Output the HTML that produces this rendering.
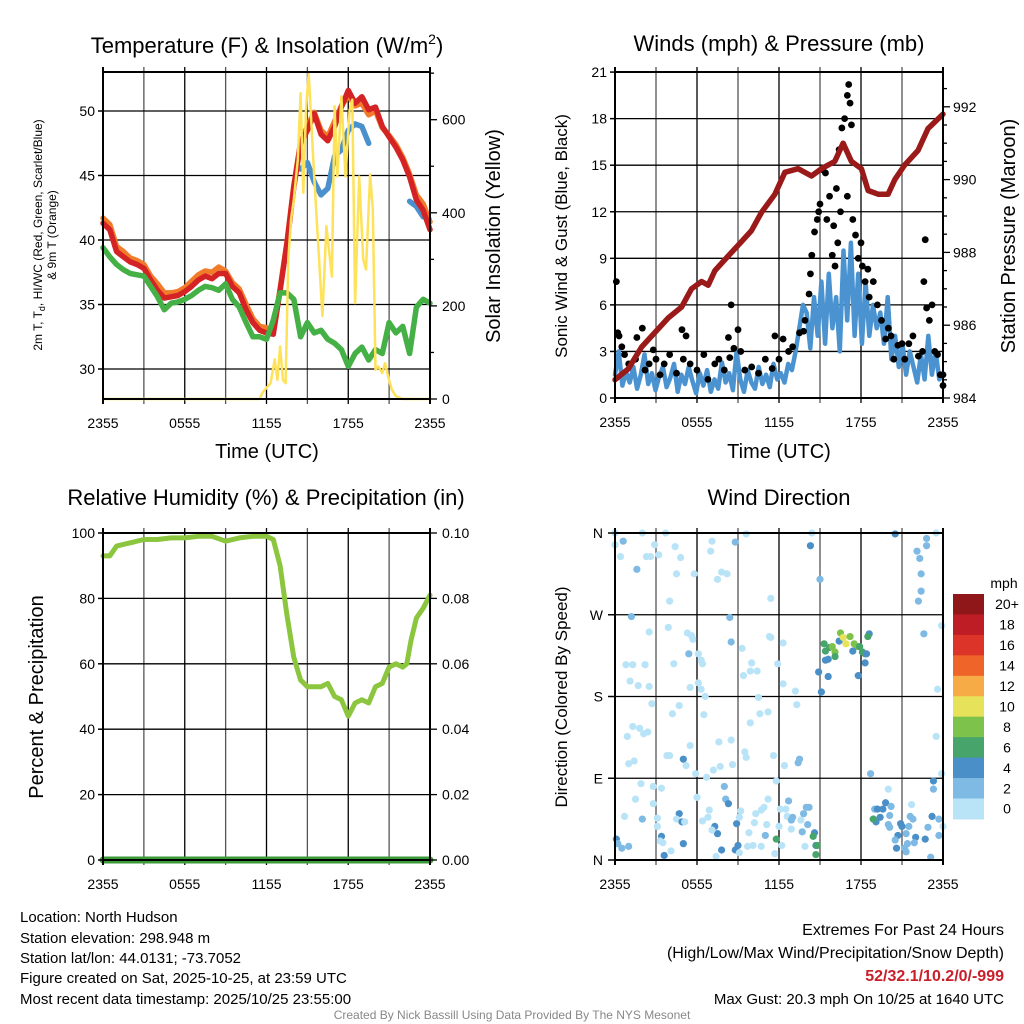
<!DOCTYPE html>
<html><head><meta charset="utf-8">
<style>
html,body{margin:0;padding:0;background:#fff;}
svg{display:block;font-family:"Liberation Sans",sans-serif;}
</style></head>
<body>
<svg id="chart" width="1024" height="1024" viewBox="0 0 1024 1024" xmlns="http://www.w3.org/2000/svg">
<rect width="1024" height="1024" fill="#fff"/>
<g id="grid"></g>
<g id="marks"></g>
<g id="axes"></g>
<text x="267" y="53" font-size="22" text-anchor="middle">Temperature (F) &amp; Insolation (W/m<tspan font-size="14" dy="-9">2</tspan><tspan dy="9">)</tspan></text>
<text x="779" y="51" font-size="22" text-anchor="middle">Winds (mph) &amp; Pressure (mb)</text>
<text x="266" y="505" font-size="22" text-anchor="middle">Relative Humidity (%) &amp; Precipitation (in)</text>
<text x="779" y="505" font-size="22" text-anchor="middle">Wind Direction</text>
<text transform="translate(42,235) rotate(-90)" font-size="12" text-anchor="middle">2m T, T<tspan font-size="9" dy="3">d</tspan><tspan dy="-3">, HI/WC (Red, Green, Scarlet/Blue)</tspan></text>
<text transform="translate(56,235) rotate(-90)" font-size="12" text-anchor="middle">&amp; 9m T (Orange)</text>
<text transform="translate(500,236) rotate(-90)" font-size="20" text-anchor="middle">Solar Insolation (Yellow)</text>
<text transform="translate(567,236) rotate(-90)" font-size="17" text-anchor="middle">Sonic Wind &amp; Gust (Blue, Black)</text>
<text transform="translate(1015,236) rotate(-90)" font-size="20" text-anchor="middle">Station Pressure (Maroon)</text>
<text transform="translate(43,697) rotate(-90)" font-size="20" text-anchor="middle">Percent &amp; Precipitation</text>
<text transform="translate(567,697) rotate(-90)" font-size="17" text-anchor="middle">Direction (Colored By Speed)</text>
<text x="267" y="458" font-size="20" text-anchor="middle">Time (UTC)</text>
<text x="779" y="458" font-size="20" text-anchor="middle">Time (UTC)</text>
<g font-size="15">
<text x="20" y="922">Location: North Hudson</text>
<text x="20" y="943">Station elevation: 298.948 m</text>
<text x="20" y="963">Station lat/lon: 44.0131; -73.7052</text>
<text x="20" y="983">Figure created on Sat, 2025-10-25, at 23:59 UTC</text>
<text x="20" y="1004">Most recent data timestamp: 2025/10/25 23:55:00</text>
</g>
<g text-anchor="end">
<text x="1004" y="935" font-size="16">Extremes For Past 24 Hours</text>
<text x="1004" y="958" font-size="16">(High/Low/Max Wind/Precipitation/Snow Depth)</text>
<text x="1004" y="981" font-size="16" font-weight="bold" fill="#c8202a">52/32.1/10.2/0/-999</text>
<text x="1004" y="1004" font-size="15">Max Gust: 20.3 mph On 10/25 at 1640 UTC</text>
</g>
<text x="512" y="1019" font-size="12" fill="#888" text-anchor="middle">Created By Nick Bassill Using Data Provided By The NYS Mesonet</text>
</svg>
<script>
const timeTicks = ["2355","0555","1155","1755","2355"];
const tempRed = [41.3,40.8,39.1,38.7,38.3,38.1,37.8,36.9,36.1,35.5,35.6,35.7,36.0,36.4,36.9,37.2,37.0,37.4,37.4,36.4,35.9,34.6,33.6,33.0,32.8,32.7,36.1,39.7,44.1,47.5,48.5,49.8,48.2,47.7,48.8,50.3,51.6,50.6,51.1,50.1,50.3,48.8,48.0,47.2,46.2,44.9,43.1,42.3,40.8];
const tempOrange = [41.7,41.2,39.5,39.1,38.6,38.4,38.1,37.2,36.6,35.9,35.9,36.0,36.3,36.8,37.3,37.6,37.5,37.9,37.6,36.7,36.2,35.0,33.9,33.3,33.2,32.9,36.2,39.8,44.2,47.6,48.8,49.9,48.5,48.0,49.2,50.4,51.2,50.4,50.6,49.7,50.0,48.7,48.1,47.4,46.4,45.1,43.5,42.8,41.4];
const tempBlue = [null,null,null,null,null,null,null,null,null,null,null,null,null,null,null,null,null,null,null,null,null,null,null,null,null,null,null,null,null,45.5,46.0,44.5,43.5,44.0,46.5,47.0,48.5,49.0,48.8,47.5,null,null,null,null,null,43.0,42.6,41.8,null];
const dewGreen = [39.4,38.7,38.1,37.7,37.4,37.3,37.2,36.4,35.6,34.6,35.1,35.2,35.4,35.7,36.1,36.4,36.3,36.1,36.6,35.4,34.8,33.6,32.5,32.5,32.3,33.8,35.9,35.9,35.4,32.5,33.6,32.8,33.0,32.3,32.0,31.5,30.2,31.2,31.7,30.7,31.5,31.2,33.6,32.8,33.3,31.2,34.8,35.4,35.1];
const tempTicks = [30,35,40,45,50];
const solarTicks = [0,200,400,600];
const solarH = [0,11.5,11.7,12,12.3,12.6,12.8,13,13.2,13.4,13.6,13.8,14,14.3,14.5,14.7,14.9,15.1,15.3,15.5,15.8,16.1,16.4,16.8,17,17.2,17.5,17.8,18.1,18.3,18.5,18.8,19.1,19.3,19.6,19.8,20,20.2,20.5,20.7,21,21.2,21.5,22,24];
const solarW = [0,0,13,24,34,85,41,113,41,34,300,385,428,514,657,443,621,700,586,478,328,178,371,263,629,478,650,478,621,643,206,478,300,278,482,407,63,70,56,77,41,20,6,0,0];

const windSpeed = [1.5,3.0,0.8,1.7,1.0,2.0,0.6,1.5,2.8,0.9,1.6,0.5,1.4,2.0,0.7,1.3,2.2,0.4,1.5,0.9,2.0,1.1,0.3,1.6,0.8,1.8,0.4,1.2,0.6,2.3,1.0,1.6,0.5,3.0,1.2,0.4,1.8,1.0,0.6,2.0,0.9,1.5,0.7,2.2,1.2,1.6,1.0,2.2,1.8,3.0,4.5,6.0,5.5,3.2,6.5,4.0,7.5,3.5,8.0,4.5,6.5,3.0,9.5,5.0,10.0,4.0,8.0,3.5,7.5,4.0,6.0,4.5,5.5,3.5,6.5,2.5,4.0,2.0,3.5,1.5,3.0,2.0,1.0,2.8,1.2,4.0,1.5,3.0,1.2,1.5];
const gustH = [0.1,0.2,0.3,0.5,0.7,1.0,1.5,1.6,2.0,2.2,2.5,2.8,3.0,3.3,3.6,4.0,4.5,4.9,5.0,5.2,5.5,6.0,6.5,6.8,7.3,7.6,8.0,8.4,8.5,8.3,8.7,9.0,9.2,9.5,10.0,10.5,11.0,11.5,11.7,12.0,12.3,12.7,13.0,13.5,13.8,13.9,14.2,14.3,14.4,14.6,14.8,14.9,15.0,15.2,15.4,15.5,15.7,15.9,16.0,16.2,16.4,16.6,16.8,17.0,17.1,17.2,17.3,17.0,17.4,16.5,16.3,16.1,17.6,17.8,18.0,18.1,18.3,18.5,18.6,18.9,19.2,19.5,19.8,20.0,20.2,20.4,20.7,21.0,21.2,21.5,21.8,22.2,22.5,22.6,22.7,22.8,23.0,23.2,23.4,23.6,23.8,24.0,24.0];
const gustV = [7.5,4.2,4.0,3.3,2.8,2.2,2.5,3.9,4.5,1.8,2.2,3.1,2.5,1.5,2.2,2.8,1.6,4.4,2.5,4.0,2.2,1.8,2.8,1.2,2.2,2.5,1.8,2.6,6.0,3.9,3.2,4.4,3.0,1.8,2.0,1.6,2.5,1.9,4.0,2.5,3.8,3.0,3.3,4.2,4.3,5.0,6.7,8.0,9.2,10.7,11.5,12.0,12.5,14.7,14.5,11.5,13.0,9.2,11.1,13.5,16.0,17.4,18.0,19.5,20.2,19.0,17.6,13.0,11.5,12.0,10.0,8.5,10.5,9.0,10.0,8.5,7.5,8.3,6.5,7.5,6.0,5.0,3.8,4.5,4.0,2.5,3.4,3.5,2.5,3.5,4.0,2.7,3.0,7.5,10.2,5.8,5.0,6.0,3.0,2.8,1.5,0.8,1.5];
const presH = [0,0.97,1.95,2.92,3.9,4.87,5.6,6.34,6.82,7.31,8.28,9.26,9.99,10.72,11.7,12.43,13.4,14.38,15.11,16.08,16.69,17.3,18.03,18.52,19.25,19.98,20.47,21.2,22.17,22.9,24];
const presV = [984.5,984.8,985.4,985.8,986.2,986.5,987.0,987.2,987.1,987.5,987.9,988.3,988.6,989.1,989.6,990.2,990.3,990.1,990.3,990.5,991.0,990.5,990.3,989.7,989.6,989.6,990.0,990.4,990.8,991.4,991.8];
const windTicks = [0,3,6,9,12,15,18,21];
const presTicks = [984,986,988,990,992];

const rhH = [0,0.5,1,2,3,4,5,6,7,8,9,10,11,12,12.5,13,13.5,14,14.5,15,16,16.5,17,17.5,18,18.5,19,19.5,20,20.5,21,21.5,22,22.3,22.6,23,23.5,24];
const rhV = [93,93,96,97,98,98,98.5,98.5,99,99,97.5,98.5,99,99,98,90,75,62,55,53,53,54,50,49,44,48,49,48,53,54,59,60,59,60,67,74,77,81];
const precipH = [0,24];
const precipV = [0,0];
const rhTicks = [0,20,40,60,80,100];
const precipTicks = ["0.00","0.02","0.04","0.06","0.08","0.10"];

const dirH = [0.0,2.0,3.7,9.6,14.4,20.5,23.5,0,0.6,2.9,4.4,7.1,7.0,8.8,14.3,22.8,22.8,0.4,2.3,2.6,3.2,4.8,22.1,22.3,1.6,4.5,5.8,7.8,8.2,7.5,15.0,22.4,22.4,4.0,11.4,22.2,1.2,8.4,2.5,3.9,5.3,5.6,5.7,8.5,11.3,11.4,12.3,22.6,23.9,5.4,6.1,6.3,6.4,9.3,10.0,0.8,1.3,2.2,4.3,9.9,10.4,11.9,9.4,1.1,1.7,2.5,5.5,6.1,6.3,12.3,13.2,23.6,6.6,10.5,2.7,4.7,13.3,4.2,6.5,10.6,11.2,9.9,1.3,1.8,2.1,2.4,0.9,5.5,7.6,8.5,23.5,9.5,9.6,11.6,3.8,4.0,5.0,13.5,13.4,1.0,1.4,5.2,7.7,8.6,12.4,5.9,6.7,7.2,18.7,23.9,23.3,23.3,11.8,1.9,2.8,3.4,8.0,8.1,8.3,6.0,1.5,2.8,11.2,12.7,20.0,21.7,0.7,2.0,3.1,4.7,4.5,4.9,5.1,6.4,6.9,6.8,7.3,7.5,7.1,8.9,9.2,9.1,10.3,10.7,10.9,10.2,11.1,12.0,12.1,12.5,12.6,12.9,13.0,12.9,13.6,13.8,14.0,14.2,14.1,13.7,14.6,14.5,14.7,14.8,14.7,11.8,11.0,9.8,9.7,10.1,10.7,12.2,9.0,8.8,9.1,7.8,7.4,5.0,4.1,3.6,3.4,3.3,3.5,3.1,0.1,0.2,0.5,1.0,11.7,13.9,19.0,19.2,19.6,19.8,20.2,20.1,18.9,19.1,19.4,18.9,20.0,20.1,20.9,21.0,20.7,20.5,20.6,21.2,21.4,21.3,21.5,21.3,21.6,21.8,22.0,21.9,22.7,22.9,23.2,23.7,24.0,23.7,23.1,15.3,15.4,15.7,15.9,16.1,16.1,16.4,16.5,16.7,16.9,17.2,17.5,17.7,17.9,18.1,18.3,17.4,18.4,15.4,15.6,18.3,18.6,18.5,14.9,15.6,17.8,15.1];
const dirD = [360,360,360,359,360,359,360,347,351,347,345,351,340,350,346,354,346,334,334,334,336,333,340,332,320,315,315,317,315,309,309,315,296,285,288,285,268,267,251,256,250,247,243,240,246,245,239,249,258,227,227,220,216,233,217,215,215,215,216,208,208,216,203,197,192,191,190,195,188,194,186,188,180,179,172,170,171,161,160,161,163,151,147,145,139,141,136,126,130,132,136,119,113,115,115,115,111,111,107,106,109,104,103,105,104,95,91,99,95,95,87,78,87,84,81,79,81,67,62,69,67,62,67,65,78,61,48,45,46,51,45,42,42,43,55,47,37,29,33,40,54,47,51,55,58,41,39,37,56,56,48,44,47,34,44,51,58,58,39,31,30,26,16,16,6,23,27,30,15,16,15,16,16,11,8,11,4,18,10,5,26,21,19,37,23,18,13,15,7,15,56,56,56,63,59,49,45,42,47,45,39,36,40,37,27,22,13,13,18,9,37,29,48,45,25,19,23,36,48,45,37,27,3,238,230,234,235,229,224,241,250,245,238,246,238,235,235,229,227,230,227,220,221,217,249,246,207,202,203,185];
const dirS = [1,1,1,1,1,5,1,1,3,1,1,1,1,3,5,3,3,1,1,1,1,1,3,3,3,1,1,1,1,1,3,3,3,1,1,3,3,3,1,1,1,1,1,3,1,1,1,3,1,3,1,1,1,1,1,1,1,1,1,1,1,1,1,1,1,1,1,1,1,1,1,1,1,1,1,1,1,1,1,1,1,1,1,1,1,1,1,1,1,1,1,1,1,1,1,1,5,3,3,1,1,1,1,1,1,1,1,1,3,1,5,3,1,1,1,1,3,3,5,1,1,1,1,3,1,1,1,3,1,5,1,5,1,1,1,1,5,5,1,5,1,1,1,1,1,1,1,1,1,1,1,3,3,1,1,3,3,3,3,3,5,7,5,7,7,7,3,1,1,1,1,1,5,5,1,5,1,5,1,5,5,1,1,1,5,3,3,3,1,1,3,5,5,5,3,3,5,5,5,7,3,3,5,5,5,3,5,3,3,3,3,3,3,3,5,3,5,3,5,3,1,3,3,7,7,7,9,9,7,5,9,10.5,10.5,9,9,9,7,7,7,5,5,5,5,5,5,7,5,5,5,5];
const speedBinLabels = ["0","2","4","6","8","10","12","14","16","18","20+"];
const speedBinColors = ["#b9e4f8","#7ebae4","#4a8fc7","#47a56c","#7dc24b","#e6e25a","#f6ab46","#ef6429","#dc3429","#be1d25","#8f1619"];
const dirTicks = ["N","E","S","W","N"];

const NS = "http://www.w3.org/2000/svg";
const gGrid = document.getElementById("grid");
const gMarks = document.getElementById("marks");
const gAxes = document.getElementById("axes");
function mk(tag, attrs, parent){
  const e = document.createElementNS(NS, tag);
  for (const k in attrs) e.setAttribute(k, attrs[k]);
  parent.appendChild(e);
  return e;
}
function txt(x, y, s, size, anchor, parent){
  const t = mk("text", {x:x, y:y, "font-size":size, "text-anchor":anchor}, parent);
  t.textContent = s;
  return t;
}
const panels = {
  p1:{x0:103,x1:430,y0:72,y1:399},
  p2:{x0:615,x1:943,y0:72,y1:398},
  p3:{x0:103,x1:430,y0:533,y1:860},
  p4:{x0:615,x1:943,y0:533,y1:860}
};
function xH(p, h){ return p.x0 + h*(p.x1-p.x0)/24; }
const yTemp = t => 111 + (50-t)*12.9;
const ySolar = w => 399 - w*0.4655;
const yWind = v => 398 - v*15.52;
const yPres = p => 398 - (p-984)*36.4;
const yRH = r => 860 - r*3.27;
const yPrec = v => 860 - v*3270;
const yDir = d => 860 - d*0.9083;

function drawFrame(p, hLines, name){
  for (let i=1;i<8;i++){
    const x = xH(p, i*3);
    const l = mk("line",{x1:x,y1:p.y0-5,x2:x,y2:p.y1+5,stroke:i%2?"#555":"#000","stroke-width":1.3},gGrid);
    
    
  }
  hLines.forEach(y=>{
    const l = mk("line",{x1:p.x0,y1:y,x2:p.x1,y2:y,stroke:"#000","stroke-width":1.3},gGrid);
    
    
  });
  const r = mk("rect",{x:p.x0,y:p.y0,width:p.x1-p.x0,height:p.y1-p.y0,fill:"none",stroke:"#000","stroke-width":2},gAxes);
  
  
  [0,24].forEach(h=>{
    const x = xH(p,h);
    mk("line",{x1:x,y1:p.y0-5,x2:x,y2:p.y0,stroke:"#000","stroke-width":2},gAxes);
    mk("line",{x1:x,y1:p.y1,x2:x,y2:p.y1+5,stroke:"#000","stroke-width":2},gAxes);
  });
  timeTicks.forEach((s,i)=>{
    const t = txt(xH(p,i*6), p.y1+29, s, 14, "middle", gAxes);
    
    
  });
}
function polyline(pts, color, w, name){
  const d = pts.map((q,i)=>(i?"L":"M")+q[0].toFixed(1)+","+q[1].toFixed(1)).join("");
  const e = mk("path",{d:d,fill:"none",stroke:color,"stroke-width":w,"stroke-linejoin":"round","stroke-linecap":"round"},gMarks);
  
  
  return e;
}
function seriesPts(p, vals, yf){
  const n = vals.length;
  return vals.map((v,i)=>[xH(p, i*24/(n-1)), v==null?null:yf(v)]);
}

const P1 = panels.p1;
drawFrame(P1, tempTicks.map(yTemp), "temperature-panel");
tempTicks.forEach(t=>{
  const l = txt(P1.x0-8, yTemp(t)+5, String(t), 14, "end", gAxes);
  
  
  mk("line",{x1:P1.x0-5,y1:yTemp(t),x2:P1.x0,y2:yTemp(t),stroke:"#000","stroke-width":1.5},gAxes);
});
solarTicks.forEach(w=>{
  const l = txt(P1.x1+12, ySolar(w)+5, String(w), 14, "start", gAxes);
  
  
});
for (let w=0; w<=700; w+=100){
  mk("line",{x1:P1.x1,y1:ySolar(w),x2:P1.x1+(w%200?4:7),y2:ySolar(w),stroke:"#000","stroke-width":1.3},gAxes);
}
{
  const pts = seriesPts(P1, tempBlue, yTemp);
  let seg = [];
  pts.concat([[0,null]]).forEach(q=>{
    if (q[1]==null){ if (seg.length>1) polyline(seg,"#4a90cc",5.5,"hiwc-line"); seg=[]; }
    else seg.push(q);
  });
}
polyline(seriesPts(P1,tempOrange,yTemp),"#f27b2a",5.5,"temp-9m-line");
polyline(seriesPts(P1,tempRed,yTemp),"#d42325",5.5,"temp-2m-line");
polyline(seriesPts(P1,dewGreen,yTemp),"#45b045",5.5,"dewpoint-line");
polyline(solarH.map((h,i)=>[xH(P1,h), ySolar(solarW[i])]),"#fde25a",2.5,"solar-line");

const P2 = panels.p2;
drawFrame(P2, windTicks.slice(1,-1).map(yWind), "winds-panel");
windTicks.forEach(v=>{
  const l = txt(P2.x0-8, yWind(v)+5, String(v), 14, "end", gAxes);
  
  
  mk("line",{x1:P2.x0-5,y1:yWind(v),x2:P2.x0,y2:yWind(v),stroke:"#000","stroke-width":1.5},gAxes);
});
presTicks.forEach(p=>{
  const l = txt(P2.x1+10, yPres(p)+5, String(p), 14, "start", gAxes);
  
  
});
for (let p=984; p<=992.5; p+=0.5){
  mk("line",{x1:P2.x1,y1:yPres(p),x2:P2.x1+(p%2?4:7),y2:yPres(p),stroke:"#000","stroke-width":1.3},gAxes);
}
polyline(seriesPts(P2,windSpeed,yWind),"#4b93d0",4.5,"sonic-wind-line");
gustH.forEach((h,i)=>{
  const c = mk("circle",{cx:xH(P2,h),cy:yWind(gustV[i]),r:3.4,fill:"#000"},gMarks);
  
  
});
polyline(presH.map((h,i)=>[xH(P2,h), yPres(presV[i])]),"#9a1a1a",5.5,"pressure-line");

const P3 = panels.p3;
drawFrame(P3, rhTicks.slice(1,-1).map(yRH), "humidity-panel");
rhTicks.forEach((r,i)=>{
  const l = txt(P3.x0-8, yRH(r)+5, String(r), 14, "end", gAxes);
  
  
  mk("line",{x1:P3.x0-5,y1:yRH(r),x2:P3.x0,y2:yRH(r),stroke:"#000","stroke-width":1.5},gAxes);
  const l2 = txt(P3.x1+12, yRH(r)+5, precipTicks[i], 14, "start", gAxes);
  
  
  mk("line",{x1:P3.x1,y1:yRH(r),x2:P3.x1+7,y2:yRH(r),stroke:"#000","stroke-width":1.3},gAxes);
});
polyline(rhH.map((h,i)=>[xH(P3,h), yRH(rhV[i])]),"#8cc63f",5,"humidity-line");
polyline(precipH.map((h,i)=>[xH(P3,h), yPrec(precipV[i])]),"#3a9a3a",7,"precip-line");

const P4 = panels.p4;
drawFrame(P4, [90,180,270].map(yDir), "direction-panel");
dirTicks.forEach((s,i)=>{
  const l = txt(P4.x0-12, yDir(i*90)+5, s, 14, "end", gAxes);
  
  
  mk("line",{x1:P4.x0-7,y1:yDir(i*90),x2:P4.x0,y2:yDir(i*90),stroke:"#000","stroke-width":1.5},gAxes);
});
function speedColor(s){ return speedBinColors[Math.min(10, Math.floor(s/2))]; }
dirH.forEach((h,i)=>{
  const c = mk("circle",{cx:xH(P4,h),cy:yDir(dirD[i]),r:3.6,fill:speedColor(dirS[i])},gMarks);
  
  
});
{
  const top = 594, bh = 20.45;
  const lg = txt(1004, 588, "mph", 14, "middle", gAxes);
  
  
  for (let k=0;k<11;k++){
    const idx = 10-k;
    const y = top + k*bh;
    const r = mk("rect",{x:953,y:y,width:31,height:bh+0.5,fill:speedBinColors[idx]},gAxes);
    
    
    const t = txt(1007, y+bh/2+5, speedBinLabels[idx], 14, "middle", gAxes);
    
    
  }
}
</script>
</body></html>
